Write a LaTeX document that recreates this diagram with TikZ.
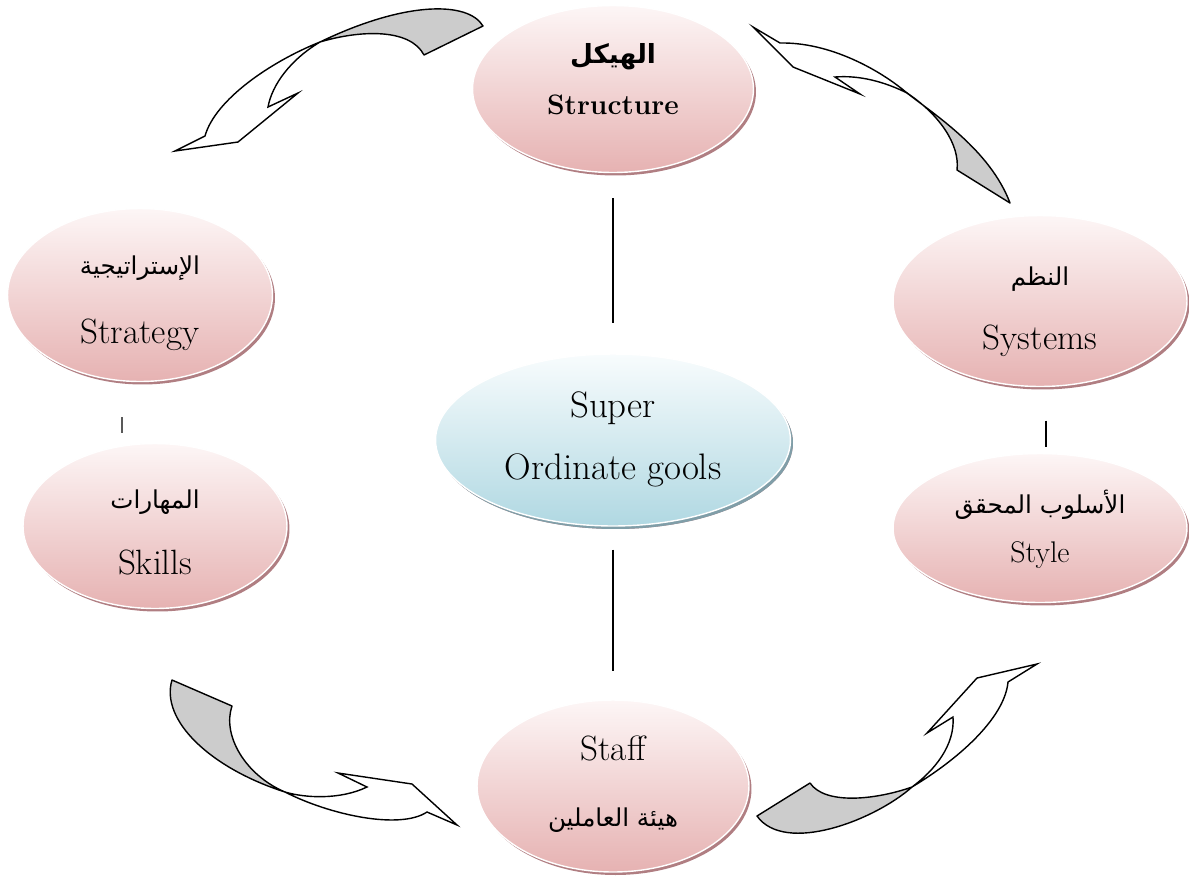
\documentclass[tikz,border=0pt]{standalone}
\usepackage{fontspec}
\newfontfamily\arabicfont[Script=Arabic]{DejaVu Sans}
\TeXXeTstate=1
\usepackage{tikz}
\usetikzlibrary{shapes.geometric,shadows}
\definecolor{rosetop}{RGB}{253,246,246}
\definecolor{rosebot}{RGB}{230,178,178}
\definecolor{roseshade}{RGB}{176,126,130}
\definecolor{skytop}{RGB}{248,252,253}
\definecolor{skybot}{RGB}{176,216,226}
\definecolor{skyshade}{RGB}{128,158,168}
\newcommand{\artext}[2][14]{{\fontsize{#1}{#1}\arabicfont\beginR #2\endR}}
\newcommand{\twolines}[4]{\rule{0pt}{#1}#3\\#4\rule[-#2]{0pt}{#2}}

\begin{document}
\begin{tikzpicture}[x=0.02cm, y=-0.02cm,
                element/.style={ellipse, draw=white, line width=0.8pt, inner sep=0pt, align=center, top color=rosetop, bottom color=rosebot, general shadow={fill=roseshade, shadow xshift=0.05cm, shadow yshift=-0.06cm}},
                goal/.style={element, top color=skytop, bottom color=skybot, general shadow={fill=skyshade, shadow xshift=0.05cm, shadow yshift=-0.06cm}},
                link/.style={line width=0.6pt},
                back/.style={fill=black!20, draw=black, line width=0.8pt, line join=round},
                front/.style={fill=white, draw=black, line width=0.8pt, line join=miter}
            ]
            \useasboundingbox (0,0) rectangle (1189,880);
            \node[element, minimum width=5.62cm, minimum height=3.34cm, font=\fontsize{16}{29.5}\selectfont] (structure) at (613,89) {\twolines{17pt}{17pt}{\artext[15]{\bfseries الهيكل}}{\textbf{Structure}}};
            \node[element, minimum width=5.3cm, minimum height=3.46cm, font=\fontsize{20}{39.7}\selectfont] (strategy) at (140,295) {\twolines{20.4pt}{4.5pt}{\artext{الإستراتيجية}}{Strategy}};
            \node[element, minimum width=5.88cm, minimum height=3.42cm, font=\fontsize{20}{36.9}\selectfont] (systems) at (1040,301) {\twolines{23.3pt}{4.5pt}{\artext{النظم}}{Systems}};
            \node[goal, minimum width=7.1cm, minimum height=3.44cm, font=\fontsize{21}{35.7}\selectfont] (super) at (613,440) {\twolines{17.7pt}{8pt}{Super}{Ordinate gools}};
            \node[element, minimum width=5.28cm, minimum height=3.3cm, font=\fontsize{20}{38}\selectfont] (skills) at (155,526) {\twolines{19.6pt}{2pt}{\artext{المهارات}}{Skills}};
            \node[element, minimum width=5.88cm, minimum height=2.98cm, font=\fontsize{17}{28.4}\selectfont] (style) at (1040,528) {\twolines{19.4pt}{8pt}{\artext{الأسلوب المحقق}}{Style}};
            \node[element, minimum width=5.44cm, minimum height=3.44cm, font=\fontsize{20}{38}\selectfont] (staff) at (613,786) {\twolines{17.5pt}{9pt}{Staff}{\artext{هيئة العاملين}}};
            \draw[link, shorten <=0.5cm, shorten >=0.6cm] (structure.south) -- (super.north);
            \draw[link, shorten <=0.46cm, shorten >=0.56cm] (super.south) -- (staff.north);
            \draw[link, shorten <=0.7cm, shorten >=0.2cm] ([xshift=-0.36cm]strategy.south) -- ([xshift=-0.66cm]skills.north);
            \draw[link, shorten <=0.67cm, shorten >=0.11cm] ([xshift=0.12cm]systems.south) -- ([xshift=0.12cm]style.north);
            \filldraw[back] (483,26) .. controls (468,1) and (405,1) .. (320,42) .. controls (360,30) and (410,28) .. (424,55) -- cycle;
            \filldraw[front] (320,42) .. controls (270,62) and (215,100) .. (205,136) -- (175,151) -- (238,142) -- (298,93) -- (268,107) .. controls (272,85) and (290,60) .. (320,42) -- cycle;
            \filldraw[back] (907,93) .. controls (935,115) and (990,150) .. (1010,203) -- (957,170) .. controls (960,145) and (940,115) .. (907,93) -- cycle;
            \filldraw[front] (907,93) .. controls (880,70) and (830,42) .. (780,43) -- (753,27) -- (793,67) -- (860,94) -- (835,77) .. controls (860,75) and (885,82) .. (907,93) -- cycle;
            \filldraw[back] (172,680) -- (232,706) .. controls (222,735) and (245,775) .. (285,792) .. controls (210,768) and (160,720) .. (172,680) -- cycle;
            \filldraw[front] (285,792) .. controls (330,815) and (400,830) .. (427,812) -- (457,825) -- (412,784) -- (338,773) -- (367,787) .. controls (340,800) and (305,798) .. (285,792) -- cycle;
            \filldraw[back] (757,816) -- (810,783) .. controls (825,805) and (875,800) .. (912,787) .. controls (875,820) and (785,855) .. (757,816) -- cycle;
            \filldraw[front] (912,787) .. controls (965,755) and (1005,715) .. (1008,682) -- (1037,664) -- (977,678) -- (927,733) -- (953,717) .. controls (955,745) and (935,770) .. (912,787) -- cycle;
        \end{tikzpicture}
\end{document}
